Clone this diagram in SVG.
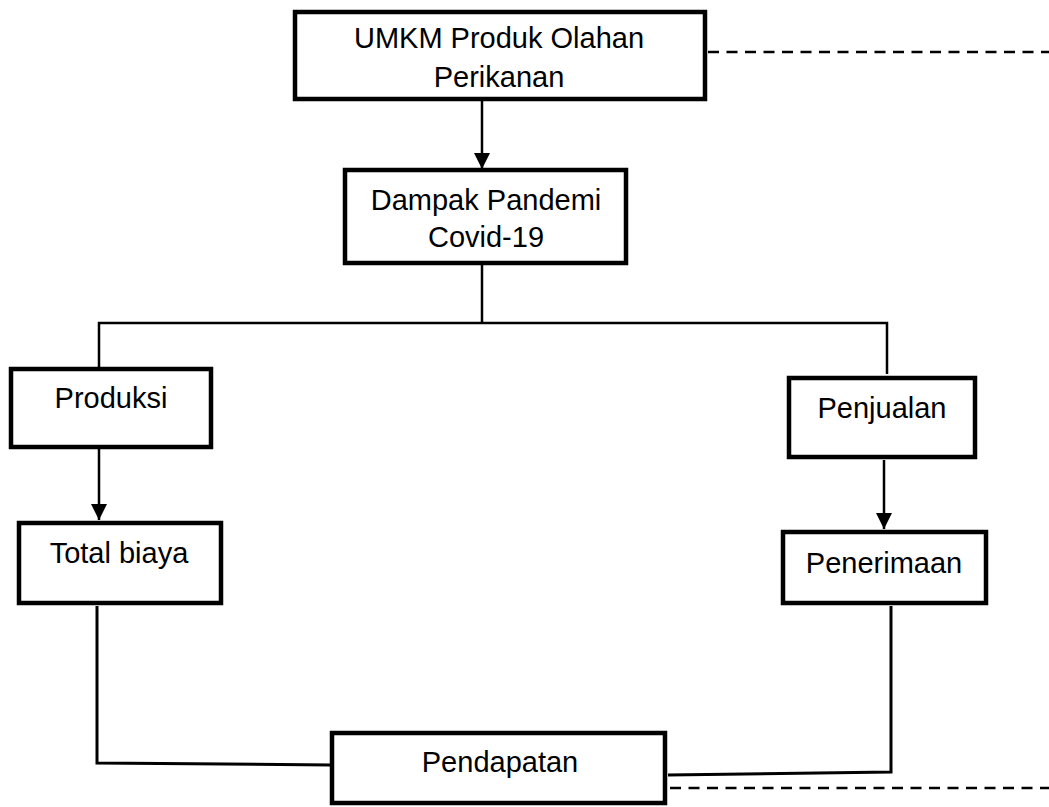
<svg xmlns="http://www.w3.org/2000/svg" width="1049" height="807" viewBox="0 0 1049 807">
<style>
.box{fill:#fff;stroke:#000;stroke-width:4.5}
.lbl{font-family:"Liberation Sans",Arial,sans-serif;font-size:29px;fill:#000;text-anchor:middle}
.ln{fill:none;stroke:#000;stroke-width:2.5}
.dash{fill:none;stroke:#000;stroke-width:2.5;stroke-dasharray:11 7.5}
</style>
<defs>
<marker id="ah" markerUnits="userSpaceOnUse" markerWidth="16" markerHeight="16" viewBox="0 0 16 16" refX="16" refY="8" orient="auto">
<path d="M0,0 L16,8 L0,16 Z" fill="#000"/>
</marker>
</defs>
<rect width="1049" height="807" fill="#fff"/>
<g id="connectors">
<line class="ln" x1="482" y1="101" x2="482" y2="169" marker-end="url(#ah)"/>
<polyline class="ln" points="482,265 482,323"/>
<polyline class="ln" points="99,368 99,323 887,323 887,374"/>
<line class="ln" x1="99" y1="449" x2="99" y2="520" marker-end="url(#ah)"/>
<line class="ln" x1="884" y1="460" x2="884" y2="529" marker-end="url(#ah)"/>
<polyline class="ln" points="97,606 97,763 331,765" style="stroke-width:3"/>
<polyline class="ln" points="668,775 891,772 891,606" style="stroke-width:3"/>
<line class="dash" x1="708" y1="52" x2="1049" y2="52"/>
<line class="dash" x1="670" y1="788" x2="1049" y2="788"/>
</g>
<g id="n-umkm">
<rect class="box" x="295" y="12" width="410" height="87"/>
<text class="lbl" x="499" y="48">UMKM Produk Olahan</text>
<text class="lbl" x="499" y="87">Perikanan</text>
</g>
<g id="n-dampak">
<rect class="box" x="345" y="170" width="281" height="93"/>
<text class="lbl" x="486" y="210">Dampak Pandemi</text>
<text class="lbl" x="486" y="247">Covid-19</text>
</g>
<g id="n-produksi">
<rect class="box" x="11" y="369" width="200" height="78"/>
<text class="lbl" x="111" y="408">Produksi</text>
</g>
<g id="n-total">
<rect class="box" x="19" y="523" width="202" height="80"/>
<text class="lbl" x="119" y="563">Total biaya</text>
</g>
<g id="n-penjualan">
<rect class="box" x="789" y="378" width="186" height="79"/>
<text class="lbl" x="882" y="418">Penjualan</text>
</g>
<g id="n-penerimaan">
<rect class="box" x="783" y="532" width="203" height="71"/>
<text class="lbl" x="884" y="573">Penerimaan</text>
</g>
<g id="n-pendapatan">
<rect class="box" x="332" y="733" width="333" height="70"/>
<text class="lbl" x="500" y="772">Pendapatan</text>
</g>
</svg>
